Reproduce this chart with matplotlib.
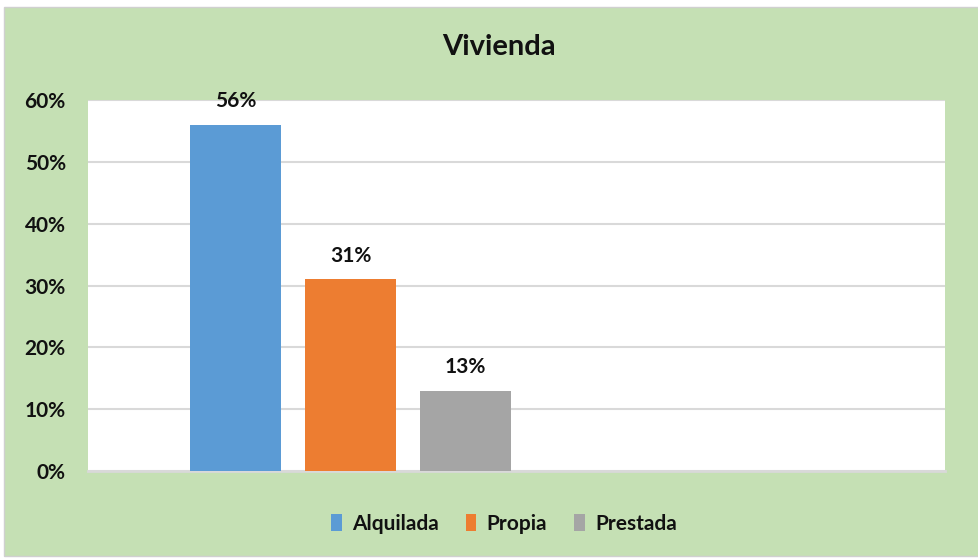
import matplotlib
matplotlib.use("Agg")
import matplotlib.pyplot as plt
from matplotlib.patches import Rectangle

# data
categorias = ["Alquilada", "Propia", "Prestada"]
valores = [0.56, 0.31, 0.13]
colores = ["#5B9BD5", "#ED7D31", "#A5A5A5"]
ticks = [0, 0.1, 0.2, 0.3, 0.4, 0.5, 0.6]

plt.rcParams['font.family'] = ['Lato', 'DejaVu Sans']

W, H = 979, 558
fig = plt.figure(figsize=(W / 100, H / 100), dpi=100, facecolor="white")
# green chart area
fig.patches.append(Rectangle((4 / W, 2 / H), 975 / W, 549 / H, transform=fig.transFigure,
                             facecolor="#C5E0B4", edgecolor="#D0D0D0", lw=1, zorder=-5))

ax = fig.add_axes([88 / W, 1 - 471 / H, (945 - 88) / W, (471 - 100) / H])
ax.set_facecolor("white")

pos = range(len(valores))
bars = ax.bar(pos, valores, width=0.79, color=colores, zorder=3)
for b, v in zip(bars, valores):
    ax.text(b.get_x() + b.get_width() / 2, v + 0.022, f"{round(v * 100)}%",
            ha="center", va="bottom", fontsize=15, fontweight="bold", color="#111111")

ax.set_xlim(-1.283, 6.17)
ax.set_ylim(0, 0.6)
ax.set_yticks(ticks)
ax.set_yticklabels([f"{round(t * 100)}%" for t in ticks])
ax.set_xticks([])
ax.yaxis.grid(True, color="#D9D9D9", lw=1.5, zorder=0)
ax.tick_params(axis="y", length=0, pad=16, labelsize=15)
for lab in ax.get_yticklabels():
    lab.set_fontweight("bold")
    lab.set_color("#111111")
for s in ["top", "right", "left"]:
    ax.spines[s].set_visible(False)
ax.spines["bottom"].set_color("#D9D9D9")
ax.spines["bottom"].set_linewidth(2)

fig.text(499 / W, 1 - 47 / H, "Vivienda", ha="center", va="center",
         fontsize=21, fontweight="bold", color="#111111")

leg = fig.legend(handles=list(bars), labels=categorias, loc="center",
                 bbox_to_anchor=(504 / W, 1 - 524 / H), ncol=3, frameon=False,
                 handlelength=0.5, handleheight=0.9, handletextpad=0.5, columnspacing=1.3,
                 prop={"size": 15, "weight": "bold"})
for t in leg.get_texts():
    t.set_color("#111111")

fig.savefig("out.png", dpi=100, facecolor="white")
